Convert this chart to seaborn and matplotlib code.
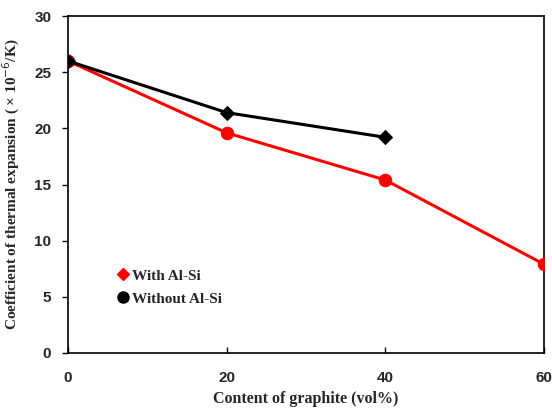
import matplotlib
matplotlib.use("Agg")
import matplotlib.pyplot as plt
import seaborn as sns
import pandas as pd
from matplotlib.lines import Line2D

sns.set_style("white")
plt.rcParams['font.family'] = ['Liberation Sans', 'DejaVu Sans']

x_with = [0, 20, 40, 60]
y_with = [26.0, 19.6, 15.4, 7.9]
x_without = [0, 20, 40]
y_without = [26.0, 21.4, 19.2]
series_names = ["With Al-Si", "Without Al-Si"]
x_ticks = [0, 20, 40, 60]
y_ticks = [0, 5, 10, 15, 20, 25, 30]

df_with = pd.DataFrame({"x": x_with, "y": y_with})
df_without = pd.DataFrame({"x": x_without, "y": y_without})

fig = plt.figure(figsize=(5.52, 4.09), dpi=100)
ax = fig.add_axes([68/552, 56/409, (544-68)/552, (353-16)/409])

sns.lineplot(data=df_with, x="x", y="y", ax=ax, color="#ff0000", lw=2.2,
             marker="o", markersize=9, markeredgecolor="#ff0000", zorder=3)
sns.lineplot(data=df_without, x="x", y="y", ax=ax, color="black", lw=2.2,
             marker="D", markersize=7, markeredgecolor="black", zorder=4)

ax.set_xlim(0, 60)
ax.set_ylim(0, 30)
ax.set_xticks(x_ticks)
ax.set_yticks(y_ticks)
ax.set_xticklabels([str(t) for t in x_ticks], fontsize=11, fontweight="bold")
ax.set_yticklabels([str(t) for t in y_ticks], fontsize=11, fontweight="bold")
ax.tick_params(axis="x", direction="in", length=4, width=1, pad=13, color="black", bottom=True)
ax.tick_params(axis="y", direction="out", length=4, width=1, pad=8, color="black", left=True)
for s in ax.spines.values():
    s.set_color("black")
    s.set_linewidth(1.2)
    s.set_visible(True)

ax.set_xlabel("Content of graphite (vol%)", fontsize=11.5, fontweight="bold",
              family=["Liberation Serif", "DejaVu Serif"], labelpad=4)
ax.set_ylabel("Coefficient of thermal expansion ( \u00d7 10$^{-6}$/K)", fontsize=11, fontweight="bold",
              family=["Liberation Serif", "DejaVu Serif"], labelpad=9)

handles = [Line2D([], [], ls="none", marker="D", color="#ff0000", markersize=6),
           Line2D([], [], ls="none", marker="o", color="black", markersize=8)]
leg = ax.legend(handles, series_names, loc="lower left", bbox_to_anchor=(0.07, 0.1),
                frameon=False, handletextpad=0.1, handlelength=1.0, labelspacing=0.6,
                prop={"family": "Liberation Serif", "weight": "bold", "size": 11})

fig.savefig("out.png", dpi=100)
